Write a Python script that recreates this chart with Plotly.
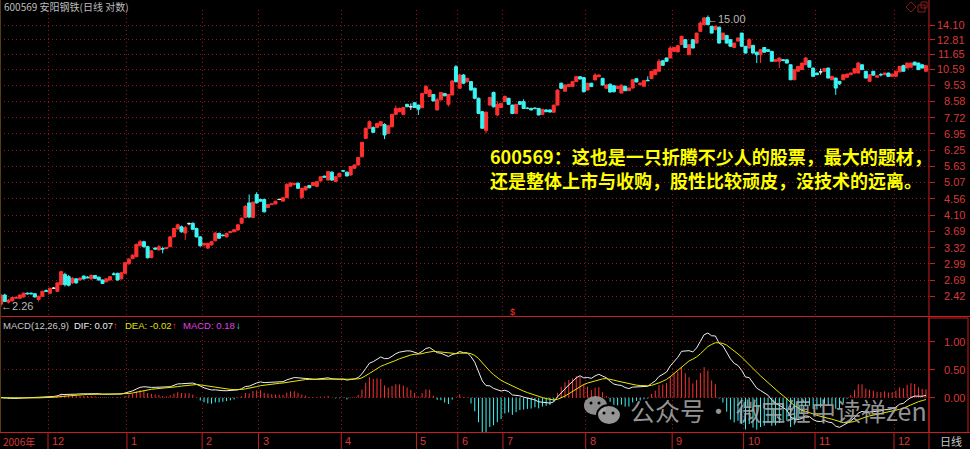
import math
import plotly.graph_objects as go

W, H = 970, 449

# ---------------- data ----------------
open_ = [2.30, 2.44, 2.33, 2.35, 2.39, 2.39, 2.41, 2.47, 2.47, 2.46, 2.37, 2.42, 2.51, 2.47, 2.55, 2.50, 2.61, 2.79, 2.75, 2.64,
         2.71, 2.69, 2.76, 2.74, 2.71, 2.77, 2.74, 2.69, 2.66, 2.69, 2.80, 2.81, 2.71, 2.81, 2.99, 3.09, 3.13, 3.36, 3.45, 3.34,
         3.11, 3.31, 3.27, 3.30, 3.30, 3.34, 3.56, 3.75, 3.80, 3.65, 3.88, 3.89, 3.76, 3.56, 3.38, 3.31, 3.38, 3.47, 3.64, 3.60,
         3.56, 3.66, 3.68, 3.72, 3.89, 4.04, 4.44, 4.04, 4.69, 4.54, 4.54, 4.31, 4.39, 4.41, 4.54, 4.49, 4.59, 4.95, 5.00, 5.04,
         4.60, 4.83, 4.97, 4.97, 4.94, 5.12, 5.28, 5.15, 5.42, 5.10, 5.26, 5.47, 5.42, 5.32, 5.56, 5.68, 5.99, 6.75, 7.21, 7.24,
         7.24, 7.33, 7.39, 6.97, 7.28, 7.89, 8.03, 7.89, 8.42, 8.29, 8.51, 8.38, 8.24, 9.04, 8.86, 8.98, 8.12, 8.67, 9.04, 8.42,
         8.95, 10.75, 9.35, 10.19, 9.76, 9.76, 9.35, 8.76, 8.03, 7.10, 8.38, 9.10, 7.86, 8.25, 8.57, 8.76, 8.38, 7.94, 8.57, 8.57,
         8.22, 8.20, 8.22, 8.20, 7.89, 8.12, 8.12, 8.00, 8.38, 9.66, 9.17, 9.45, 9.45, 9.76, 10.08, 10.02, 9.24, 9.66, 9.87, 10.08,
         9.97, 9.35, 9.60, 9.50, 9.33, 9.06, 9.47, 9.20, 9.36, 9.95, 9.57, 9.47, 9.85, 9.95, 10.21, 10.44, 11.18, 11.38, 11.38, 11.88,
         11.84, 12.41, 12.82, 11.62, 12.82, 12.54, 13.53, 14.13, 14.80, 13.98, 13.68, 13.90, 12.82, 13.18, 12.82, 12.18, 12.70, 13.38, 12.28, 12.14,
         12.35, 11.82, 11.62, 12.18, 12.01, 11.88, 11.14, 11.14, 11.25, 11.25, 10.89, 9.88, 10.44, 10.55, 10.89, 11.18, 10.66, 10.32, 10.40, 10.44,
         10.66, 9.88, 9.99, 9.78, 9.88, 10.04, 10.21, 10.32, 10.32, 10.89, 10.44, 9.78, 10.44, 10.04, 10.22, 10.21, 10.32, 10.10, 10.10, 10.40,
         10.83, 10.66, 10.72, 11.08, 11.01, 10.89, 10.44]
high = [2.45, 2.46, 2.38, 2.41, 2.42, 2.45, 2.48, 2.48, 2.48, 2.47, 2.43, 2.51, 2.53, 2.56, 2.57, 2.65, 2.86, 2.82, 2.78, 2.74,
        2.72, 2.74, 2.77, 2.76, 2.79, 2.78, 2.75, 2.70, 2.72, 2.76, 2.83, 2.82, 2.83, 3.03, 3.10, 3.18, 3.41, 3.49, 3.47, 3.36,
        3.27, 3.33, 3.38, 3.34, 3.33, 3.58, 3.78, 3.88, 3.83, 3.82, 3.91, 3.91, 3.78, 3.58, 3.43, 3.43, 3.47, 3.67, 3.66, 3.62,
        3.66, 3.69, 3.74, 3.87, 4.04, 4.38, 4.69, 4.48, 4.76, 4.56, 4.56, 4.40, 4.42, 4.50, 4.56, 4.60, 5.05, 5.08, 5.06, 5.08,
        4.90, 4.96, 4.99, 5.09, 5.12, 5.28, 5.30, 5.46, 5.45, 5.28, 5.40, 5.50, 5.44, 5.64, 5.70, 5.98, 6.60, 7.24, 7.58, 7.30,
        7.47, 7.55, 7.45, 7.36, 7.92, 8.35, 8.25, 8.28, 8.45, 8.47, 8.53, 8.40, 9.06, 9.55, 9.30, 9.00, 8.78, 9.12, 9.06, 9.00,
        9.85, 10.87, 10.28, 10.25, 10.00, 9.80, 9.38, 8.80, 8.06, 8.03, 8.85, 9.15, 8.60, 8.50, 8.92, 8.78, 8.40, 8.45, 8.60, 8.70,
        8.26, 8.24, 8.25, 8.22, 8.18, 8.15, 8.14, 8.40, 9.28, 9.70, 9.58, 9.62, 9.80, 10.12, 10.10, 10.05, 9.68, 9.68, 10.30, 10.22,
        10.00, 9.58, 9.63, 9.54, 9.50, 9.56, 9.50, 9.38, 9.90, 9.97, 9.70, 9.84, 10.10, 10.46, 10.58, 11.30, 11.20, 11.40, 12.30, 12.20,
        12.35, 13.15, 12.85, 12.45, 12.86, 13.40, 14.44, 14.85, 15.00, 14.00, 14.05, 13.95, 13.40, 13.20, 12.85, 12.56, 12.98, 13.40, 12.30, 12.95,
        12.40, 11.85, 12.05, 12.20, 12.03, 11.90, 11.27, 11.40, 11.30, 11.27, 10.92, 10.57, 10.80, 11.03, 11.45, 11.20, 10.68, 10.34, 10.62, 10.64,
        10.68, 10.12, 10.01, 9.80, 10.23, 10.27, 10.34, 10.64, 11.10, 10.91, 10.46, 10.23, 10.46, 10.16, 10.32, 10.34, 10.34, 10.27, 10.46, 10.80,
        10.90, 11.03, 11.03, 11.10, 11.03, 10.91, 10.85]
low = [2.26, 2.33, 2.31, 2.34, 2.38, 2.38, 2.40, 2.45, 2.45, 2.40, 2.34, 2.41, 2.49, 2.46, 2.54, 2.49, 2.60, 2.58, 2.58, 2.62,
       2.63, 2.68, 2.70, 2.72, 2.70, 2.71, 2.68, 2.62, 2.65, 2.68, 2.77, 2.68, 2.70, 2.80, 2.97, 3.08, 3.12, 3.35, 3.32, 3.09,
       3.10, 3.27, 3.26, 3.20, 3.29, 3.33, 3.55, 3.73, 3.66, 3.49, 3.84, 3.72, 3.55, 3.34, 3.35, 3.29, 3.36, 3.46, 3.51, 3.57,
       3.55, 3.65, 3.67, 3.71, 3.88, 4.02, 4.02, 4.02, 4.42, 4.47, 4.17, 4.29, 4.38, 4.40, 4.52, 4.48, 4.58, 4.93, 4.97, 4.86,
       4.55, 4.81, 4.88, 4.95, 4.92, 5.10, 5.22, 5.13, 5.12, 5.08, 5.24, 5.42, 5.27, 5.30, 5.54, 5.66, 5.97, 6.73, 7.18, 7.00,
       7.22, 7.30, 6.72, 6.95, 7.25, 7.87, 8.00, 7.86, 8.27, 8.12, 8.23, 7.86, 8.22, 9.00, 8.84, 8.59, 8.10, 8.65, 8.88, 8.30,
       8.93, 9.70, 9.30, 9.60, 9.70, 9.20, 8.70, 7.90, 7.18, 6.98, 8.35, 8.25, 7.80, 8.22, 8.55, 8.40, 7.90, 7.92, 8.40, 8.18,
       8.16, 8.10, 8.15, 7.84, 7.87, 8.00, 7.99, 7.98, 8.36, 9.30, 9.15, 9.43, 9.43, 9.74, 9.90, 9.10, 9.22, 9.43, 9.85, 10.05,
       9.50, 9.32, 9.10, 9.10, 9.30, 9.04, 9.18, 9.18, 9.34, 9.72, 9.55, 9.45, 9.80, 9.93, 10.19, 10.42, 10.83, 11.10, 11.36, 11.86,
       11.82, 12.39, 12.14, 11.60, 12.12, 12.50, 13.50, 14.10, 14.10, 13.35, 13.60, 12.50, 12.80, 12.50, 12.25, 12.15, 12.68, 12.25, 11.72, 12.12,
       11.72, 11.01, 11.01, 11.80, 11.86, 11.12, 11.12, 10.66, 11.14, 10.99, 9.86, 9.86, 10.42, 10.53, 10.87, 10.70, 10.08, 10.19, 10.21, 10.42,
       9.97, 9.86, 8.96, 9.55, 9.86, 10.02, 10.19, 10.30, 10.30, 10.53, 9.97, 9.76, 10.16, 10.02, 10.10, 10.19, 10.08, 10.08, 10.08, 10.38,
       10.42, 10.64, 10.70, 10.85, 10.53, 10.64, 10.42]
close = [2.44, 2.34, 2.36, 2.40, 2.40, 2.44, 2.47, 2.46, 2.46, 2.41, 2.42, 2.50, 2.50, 2.55, 2.55, 2.64, 2.84, 2.61, 2.60, 2.72,
         2.64, 2.72, 2.71, 2.73, 2.77, 2.72, 2.69, 2.63, 2.71, 2.75, 2.79, 2.69, 2.82, 3.01, 3.08, 3.16, 3.39, 3.45, 3.34, 3.11,
         3.25, 3.29, 3.34, 3.29, 3.32, 3.56, 3.76, 3.85, 3.68, 3.78, 3.88, 3.74, 3.56, 3.36, 3.41, 3.41, 3.45, 3.65, 3.53, 3.59,
         3.64, 3.68, 3.73, 3.85, 4.02, 4.34, 4.05, 4.46, 4.44, 4.49, 4.19, 4.39, 4.41, 4.49, 4.54, 4.59, 5.00, 5.05, 5.04, 4.88,
         4.88, 4.94, 4.90, 5.07, 5.10, 5.26, 5.25, 5.44, 5.15, 5.26, 5.38, 5.46, 5.29, 5.62, 5.68, 5.96, 6.58, 7.21, 7.52, 7.02,
         7.44, 7.52, 6.90, 7.33, 7.89, 8.20, 8.20, 8.25, 8.29, 8.29, 8.25, 8.16, 9.04, 9.45, 9.24, 8.61, 8.67, 9.10, 8.90, 8.98,
         9.80, 9.76, 10.19, 9.66, 9.97, 9.24, 8.76, 7.94, 7.21, 8.00, 8.80, 8.29, 8.42, 8.47, 8.86, 8.42, 7.94, 8.42, 8.42, 8.20,
         8.20, 8.12, 8.20, 7.86, 8.15, 8.03, 8.01, 8.38, 9.24, 9.35, 9.55, 9.59, 9.76, 10.08, 9.93, 9.14, 9.66, 9.45, 10.19, 10.19,
         9.55, 9.55, 9.12, 9.14, 9.47, 9.54, 9.20, 9.36, 9.88, 9.74, 9.67, 9.82, 9.82, 10.44, 10.55, 11.14, 10.85, 11.14, 12.14, 12.18,
         12.33, 13.10, 12.18, 12.41, 12.14, 13.38, 14.28, 14.76, 14.13, 13.38, 13.98, 12.54, 13.38, 12.54, 12.28, 12.54, 12.96, 12.28, 11.75, 12.82,
         11.75, 11.62, 12.01, 11.82, 11.88, 11.14, 11.25, 11.38, 11.20, 11.01, 9.88, 10.55, 10.78, 11.01, 11.38, 10.72, 10.10, 10.21, 10.40, 10.62,
         9.99, 10.10, 9.36, 9.62, 10.21, 10.25, 10.32, 10.62, 11.01, 10.55, 9.99, 10.21, 10.18, 10.14, 10.20, 10.32, 10.10, 10.25, 10.44, 10.78,
         10.44, 11.01, 11.01, 10.87, 10.55, 10.66, 10.83]

# first candle index of each month shown on the time axis
month_first = [13, 34, 54, 69, 91, 111, 122, 134, 156, 179, 198, 217, 238]
month_labels = ["12", "1", "2", "3", "4", "5", "6", "7", "8", "9", "10", "11", "12"]

price_ticks = [2.42, 2.69, 2.99, 3.32, 3.69, 4.10, 4.56, 5.07, 5.63, 6.25, 6.95,
               7.72, 8.58, 9.53, 10.59, 11.65, 12.81, 14.10]
macd_ticks = [0.0, 0.5, 1.0]
macd_tick_labels = ["0.00", "0.50", "1.00"]

low_mark = 2.26
high_mark = 15.00

# ---------------- MACD(12,26,9) from the closes ----------------
def ema(values, n):
    out = []
    prev = values[0]
    for v in values:
        prev = (2 * v + (n - 1) * prev) / (n + 1)
        out.append(prev)
    return out

e12 = ema(close, 12)
e26 = ema(close, 26)
dif = [a - b for a, b in zip(e12, e26)]
dea = ema(dif, 9)
hist = [2 * (a - b) for a, b in zip(dif, dea)]

# ---------------- helpers (pixel layout) ----------------
def fy(py):
    return (H - py) / H

def fx(px):
    return px / W

n = len(close)
idx = list(range(n))
RIGHT = 929.0
DX = 3.76                                # pixel step between candles
xr = [(0 - 1) / DX, (RIGHT - 1) / DX]

RED = "#ff3030"
CYAN = "#3cf4f4"
FRAME = "#c81e1e"
GRID = "#9a1414"
LABEL = "#d83838"
CJK = "Noto Sans CJK SC"

fig = go.Figure()

def candle(sel, color):
    return go.Candlestick(
        x=sel,
        open=[open_[i] for i in sel], high=[high[i] for i in sel],
        low=[low[i] for i in sel], close=[close[i] for i in sel],
        increasing=dict(line=dict(color=color, width=1), fillcolor=color),
        decreasing=dict(line=dict(color=color, width=1), fillcolor=color),
        whiskerwidth=0, hoverinfo="skip", showlegend=False,
        xaxis="x", yaxis="y")

up = [i for i in idx if close[i] > open_[i]]
dn = [i for i in idx if close[i] < open_[i]]
dj = [i for i in idx if close[i] == open_[i]]
fig.add_trace(candle(up, RED))
fig.add_trace(candle(dn, CYAN))
fig.add_trace(candle(dj, "#e8e8e8"))

# MACD histogram as thin sticks
def sticks(sel):
    xs, ys = [], []
    for i in sel:
        xs += [i, i, None]
        ys += [0, hist[i], None]
    return xs, ys

pos = [i for i in idx if hist[i] >= 0]
neg = [i for i in idx if hist[i] < 0]
for sel, col in ((pos, RED), (neg, CYAN)):
    xs, ys = sticks(sel)
    fig.add_trace(go.Scatter(x=xs, y=ys, mode="lines", line=dict(color=col, width=1),
                             hoverinfo="skip", showlegend=False, xaxis="x2", yaxis="y2"))
fig.add_trace(go.Scatter(x=idx, y=dif, mode="lines", line=dict(color="#f0f0f0", width=1),
                         hoverinfo="skip", showlegend=False, xaxis="x2", yaxis="y2"))
fig.add_trace(go.Scatter(x=idx, y=dea, mode="lines", line=dict(color="#e8e800", width=1),
                         hoverinfo="skip", showlegend=False, xaxis="x2", yaxis="y2"))

# ---------------- axes ----------------
grid_x = [m - 0.5 for m in month_first]
LOGTOP = math.log10(14.10) + (25 - 10) / 354.45
LOGBOT = math.log10(14.10) - (315 - 25) / 354.45

xcommon = dict(range=xr, showgrid=True, gridcolor=GRID, griddash="1px,3px", gridwidth=1,
               tickmode="array", tickvals=grid_x, showticklabels=False, ticks="",
               zeroline=False, showline=False, fixedrange=True)

fig.update_layout(
    width=W, height=H, margin=dict(l=0, r=0, t=0, b=0),
    paper_bgcolor="black", plot_bgcolor="black",
    boxgap=0.15, boxgroupgap=0.05, showlegend=False,
    xaxis=dict(domain=[0, fx(RIGHT)], anchor="y", rangeslider=dict(visible=False), **xcommon),
    xaxis2=dict(domain=[0, fx(RIGHT)], anchor="y2", matches="x", **xcommon),
    yaxis=dict(domain=[fy(315), fy(10)], anchor="x", type="log", range=[LOGBOT, LOGTOP],
               side="right", tickmode="array", tickvals=price_ticks, showticklabels=False,
               ticks="outside", ticklen=5, tickcolor=FRAME, tickwidth=1,
               showgrid=True, gridcolor=GRID, griddash="1px,3px", gridwidth=1,
               zeroline=False, showline=False, fixedrange=True),
    yaxis2=dict(domain=[fy(432), fy(316)], anchor="x2", range=[-0.6125, 1.459],
                side="right", tickmode="array", tickvals=macd_ticks, showticklabels=False,
                ticks="outside", ticklen=5, tickcolor=FRAME, tickwidth=1,
                showgrid=True, gridcolor=GRID, griddash="1px,3px", gridwidth=1,
                zeroline=False, showline=False, fixedrange=True),
)

# ---------------- frame shapes ----------------
shapes = []
def pline(x0, y0, x1, y1, color=FRAME, width=1):
    shapes.append(dict(type="line", xref="paper", yref="paper",
                       x0=fx(x0), y0=fy(y0), x1=fx(x1), y1=fy(y1),
                       line=dict(color=color, width=width)))

pline(0, 316.5, W, 316.5)
pline(0, 432.5, W, 432.5)
pline(RIGHT, 0, RIGHT, H)
pline(0.5, 0, 0.5, 432, color="#5a3a14")
shapes.append(dict(type="rect", xref="paper", yref="paper", x0=fx(RIGHT), x1=fx(968),
                   y0=fy(432.5), y1=fy(318), line=dict(color=FRAME, width=1)))
for g in grid_x:
    shapes.append(dict(type="line", xref="x2", yref="paper", x0=g, x1=g, y0=0, y1=fy(432.5),
                       line=dict(color=FRAME, width=1)))
# window icons (top right)
shapes.append(dict(type="path", xref="paper", yref="paper",
                   path=f"M {fx(906)} {fy(7)} L {fx(911)} {fy(2)} L {fx(916)} {fy(7)} L {fx(911)} {fy(12)} Z",
                   line=dict(color="#8a1a1a", width=1)))
shapes.append(dict(type="rect", xref="paper", yref="paper", x0=fx(918), x1=fx(925), y0=fy(12), y1=fy(5),
                   line=dict(color="#8a1a1a", width=1)))
shapes.append(dict(type="rect", xref="paper", yref="paper", x0=fx(921), x1=fx(927), y0=fy(8), y1=fy(2),
                   line=dict(color="#8a1a1a", width=1)))
# wechat-like icon of the watermark
shapes.append(dict(type="circle", xref="paper", yref="paper", x0=fx(584), x1=fx(607), y0=fy(415), y1=fy(396),
                   fillcolor="rgba(165,165,165,0.85)", line=dict(color="black", width=0)))
shapes.append(dict(type="circle", xref="paper", yref="paper", x0=fx(597), x1=fx(621), y0=fy(425), y1=fy(405),
                   fillcolor="rgba(165,165,165,0.9)", line=dict(color="black", width=2)))
for cx, cy in ((591, 403), (599, 403), (604, 413), (613, 413)):
    shapes.append(dict(type="circle", xref="paper", yref="paper", x0=fx(cx - 1.5), x1=fx(cx + 1.5),
                       y0=fy(cy + 1.5), y1=fy(cy - 1.5), fillcolor="black", line=dict(width=0)))

# ---------------- text ----------------
ann = []
def ptext(x, y, text, color, size, anchor="left", family=CJK, yanchor="middle"):
    ann.append(dict(xref="paper", yref="paper", x=fx(x), y=fy(y), text=text, showarrow=False,
                    xanchor=anchor, yanchor=yanchor, font=dict(color=color, size=size, family=family)))

ptext(2, 7, "600569 安阳钢铁(日线 对数)", "#bdbdbd", 10)
for v in price_ticks:
    ann.append(dict(xref="paper", yref="y", x=fx(967), y=math.log10(v), text=f"{v:.2f}",
                    showarrow=False, xanchor="right", yanchor="middle",
                    font=dict(color=LABEL, size=11, family="Liberation Sans")))
for v, t in zip(macd_ticks, macd_tick_labels):
    ann.append(dict(xref="paper", yref="y2", x=fx(967), y=v, text=t,
                    showarrow=False, xanchor="right", yanchor="middle",
                    font=dict(color=LABEL, size=11, family="Liberation Sans")))

# min / max markers
ann.append(dict(xref="x", yref="y", x=0, y=math.log10(low_mark), text=f"←{low_mark:.2f}",
                showarrow=False, xanchor="left", yanchor="middle", xshift=-2, yshift=1,
                font=dict(color="#b8b8b8", size=11, family="Liberation Sans")))
peak = max(idx, key=lambda i: high[i])
ann.append(dict(xref="x", yref="y", x=peak, y=math.log10(high_mark), text=f"←{high_mark:.2f}",
                showarrow=False, xanchor="left", yanchor="middle", xshift=-3, yshift=-4,
                font=dict(color="#b8b8b8", size=11, family="Liberation Sans")))
ann.append(dict(xref="x", yref="paper", x=136, y=fy(312), text="$", showarrow=False,
                xanchor="center", yanchor="middle", font=dict(color=RED, size=9, family="Liberation Sans")))

# MACD header
hdr = [(1, "MACD(12,26,9)", "#c8c8c8"), (72, "DIF: 0.07", "#f0f0f0"), (111, "↑", RED),
       (123, "DEA: -0.02", "#e0e000"), (170, "↑", RED), (181, "MACD: 0.18", "#e040e0"),
       (234, "↓", CYAN)]
for x, t, c in hdr:
    ptext(x, 325, t, c, 9.5, family="Liberation Sans")

# time axis
ptext(1, 441, "2006年", LABEL, 10)
for m, lab in zip(grid_x, month_labels):
    ann.append(dict(xref="x2", yref="paper", x=m, y=fy(441), text=lab, showarrow=False,
                    xanchor="left", yanchor="middle", xshift=2,
                    font=dict(color=LABEL, size=11, family="Liberation Sans")))
ptext(951, 441, "日线", "#c8c8c8", 11, anchor="center")

# big yellow comment
ptext(488, 156, "<b>600569：这也是一只折腾不少人的股票，最大的题材，</b>", "#ffff00", 18)
ptext(488, 180, "<b>还是整体上市与收购，股性比较顽皮，没技术的远离。</b>", "#ffff00", 18)

# watermark
ptext(628, 410, "公众号", "rgba(175,175,175,0.85)", 25)
ptext(718, 410, "·", "rgba(175,175,175,0.85)", 25, anchor="center")
ptext(734, 410, "微宝缠中读禅zen", "rgba(175,175,175,0.85)", 25)

fig.update_layout(shapes=shapes, annotations=ann)
fig.write_html("out.html", config={"displayModeBar": False, "staticPlot": True},
               post_script="document.body.style.margin='0';document.body.style.padding='0';"
                           "document.body.style.background='black';")
